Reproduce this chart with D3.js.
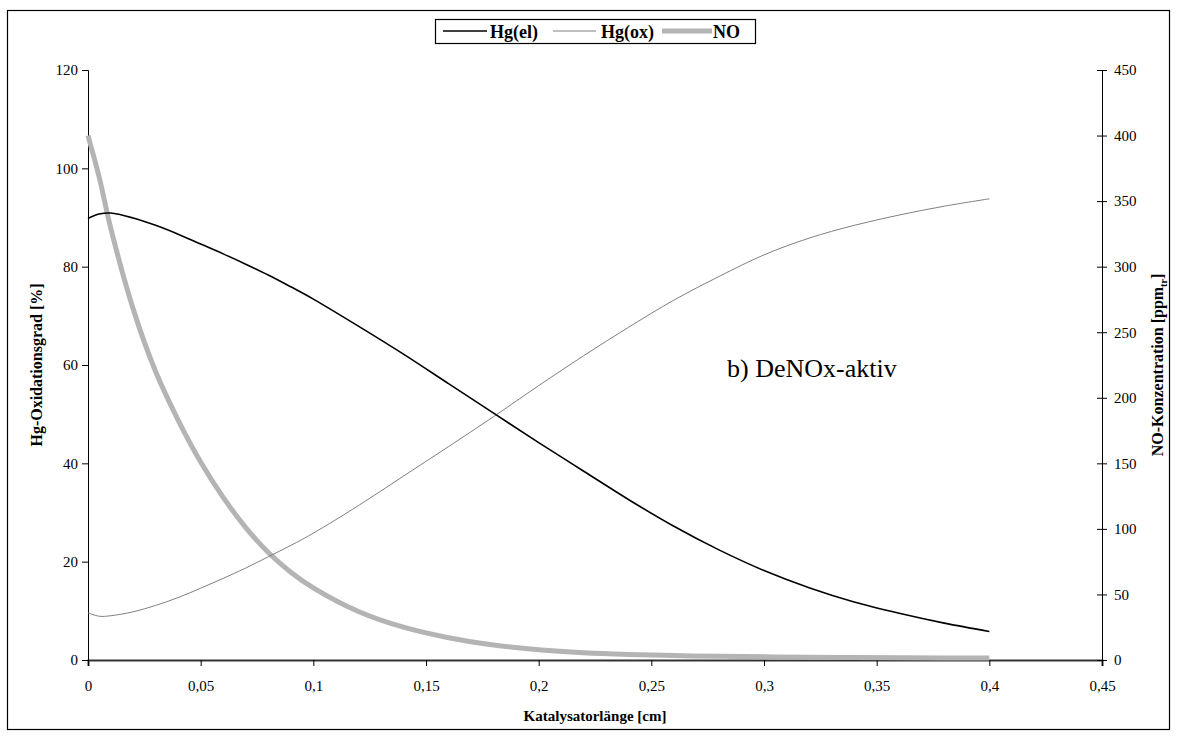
<!DOCTYPE html>
<html>
<head>
<meta charset="utf-8">
<script src="https://cdn.jsdelivr.net/npm/d3@7"></script>
<style>
  html, body { margin: 0; padding: 0; background: #fff; }
  svg { display: block; font-family: "Liberation Serif", "Times New Roman", serif; }
</style>
</head>
<body>
<svg id="chart" width="1178" height="736"></svg>
<script>
// ---- data ----
const xValues = [0, 0.005, 0.01, 0.02, 0.03, 0.04, 0.05, 0.06, 0.07, 0.08, 0.09, 0.1,
  0.12, 0.14, 0.16, 0.18, 0.2, 0.22, 0.24, 0.26, 0.28, 0.3, 0.32, 0.34, 0.36, 0.38, 0.4];
const hgEl = [89.8, 90.7, 90.9, 89.9, 88.4, 86.6, 84.6, 82.6, 80.5, 78.3, 75.9, 73.4,
  67.9, 62.2, 56.2, 50.2, 44.2, 38.4, 32.6, 27.2, 22.4, 18.2, 14.7, 11.8, 9.5, 7.5, 5.8];
const hgOx = [9.6, 8.9, 9.0, 9.8, 11.1, 12.7, 14.6, 16.6, 18.7, 21.0, 23.3, 25.8,
  31.4, 37.4, 43.4, 49.5, 55.8, 61.9, 67.7, 73.2, 78.0, 82.4, 85.8, 88.4, 90.5, 92.3, 93.8];
const noConc = [400, 368, 330, 268, 220, 183, 151, 124, 101, 82, 67, 55,
  37, 25, 17, 11.5, 7.8, 5.5, 4.2, 3.4, 2.8, 2.4, 2.1, 1.9, 1.7, 1.6, 1.5];

const xTicks = [0, 0.05, 0.1, 0.15, 0.2, 0.25, 0.3, 0.35, 0.4, 0.45];
const xTickLabels = ["0", "0,05", "0,1", "0,15", "0,2", "0,25", "0,3", "0,35", "0,4", "0,45"];
const yLeftTicks = [0, 20, 40, 60, 80, 100, 120];
const yRightTicks = [0, 50, 100, 150, 200, 250, 300, 350, 400, 450];
const seriesNames = ["Hg(el)", "Hg(ox)", "NO"];

// ---- layout ----
const svg = d3.select("#chart");
const L = 88, R = 1102, T = 70, B = 660;

const x = d3.scaleLinear().domain([0, 0.45]).range([L, R]);
const yL = d3.scaleLinear().domain([0, 120]).range([B, T]);
const yR = d3.scaleLinear().domain([0, 450]).range([B, T]);

// outer frame
svg.append("rect").attr("x", 7.5).attr("y", 10.5).attr("width", 1162).attr("height", 719)
  .attr("fill", "none").attr("stroke", "#000").attr("stroke-width", 1.2);

// axes
const fontTick = 15;
const gx = svg.append("g").attr("transform", `translate(0,${B})`)
  .call(d3.axisBottom(x).tickValues(xTicks).tickFormat((d, i) => xTickLabels[i]).tickSize(6).tickPadding(14));
gx.select(".domain").attr("stroke", "#333").attr("stroke-width", 2);

const gl = svg.append("g").attr("transform", `translate(${L},0)`)
  .call(d3.axisLeft(yL).tickValues(yLeftTicks).tickSize(6).tickPadding(4));
const gr = svg.append("g").attr("transform", `translate(${R},0)`)
  .call(d3.axisRight(yR).tickValues(yRightTicks).tickSize(5).tickPadding(7));
gr.selectAll(".tick line").attr("x1", -5);

[gx, gl, gr].forEach(g => {
  g.selectAll("text").attr("font-family", "Liberation Serif").attr("font-size", fontTick).attr("fill", "#000");
  g.selectAll("line").attr("stroke", "#000");
});
gl.select(".domain").attr("stroke", "#000");
gr.select(".domain").attr("stroke", "#000");

// axis titles
svg.append("text").attr("x", x(0.225)).attr("y", 721).attr("text-anchor", "middle")
  .attr("font-weight", "bold").attr("font-size", 15).text("Katalysatorlänge [cm]");
svg.append("text").attr("transform", `translate(42,${(T + B) / 2}) rotate(-90)`).attr("text-anchor", "middle")
  .attr("font-weight", "bold").attr("font-size", 16).text("Hg-Oxidationsgrad [%]");
const rt = svg.append("text").attr("transform", `translate(1163,${(T + B) / 2}) rotate(-90)`).attr("text-anchor", "middle")
  .attr("font-weight", "bold").attr("font-size", 16);
rt.append("tspan").text("NO-Konzentration [ppm");
rt.append("tspan").attr("font-size", 10).attr("dy", 4).text("tr");
rt.append("tspan").attr("dy", -4).text("]");

// lines
const curve = d3.curveCatmullRom.alpha(0.5);
const lineL = (vals) => d3.line().curve(curve).x((d, i) => x(xValues[i])).y(d => yL(d))(vals);
const lineR = (vals) => d3.line().curve(curve).x((d, i) => x(xValues[i])).y(d => yR(d))(vals);

svg.append("path").attr("d", lineR(noConc)).attr("fill", "none").attr("stroke", "#b4b4b4").attr("stroke-width", 5);
svg.append("path").attr("d", lineL(hgOx)).attr("fill", "none").attr("stroke", "#808080").attr("stroke-width", 1);
svg.append("path").attr("d", lineL(hgEl)).attr("fill", "none").attr("stroke", "#000").attr("stroke-width", 1.6);

// annotation
svg.append("text").attr("x", 727).attr("y", 377).attr("font-size", 26).text("b) DeNOx-aktiv");

// legend
const lg = svg.append("g");
lg.append("rect").attr("x", 435.5).attr("y", 19.5).attr("width", 320).attr("height", 24)
  .attr("fill", "#fff").attr("stroke", "#000").attr("stroke-width", 1.2);
const legendItems = [
  { name: seriesNames[0], x1: 443, x2: 487, color: "#000", w: 1.6, tx: 490 },
  { name: seriesNames[1], x1: 553, x2: 596, color: "#808080", w: 1, tx: 601 },
  { name: seriesNames[2], x1: 662, x2: 712, color: "#b4b4b4", w: 5, tx: 713 }
];
legendItems.forEach(it => {
  lg.append("line").attr("x1", it.x1).attr("x2", it.x2).attr("y1", 31).attr("y2", 31)
    .attr("stroke", it.color).attr("stroke-width", it.w);
  lg.append("text").attr("x", it.tx).attr("y", 38).attr("font-weight", "bold").attr("font-size", 18).text(it.name);
});
</script>
</body>
</html>
